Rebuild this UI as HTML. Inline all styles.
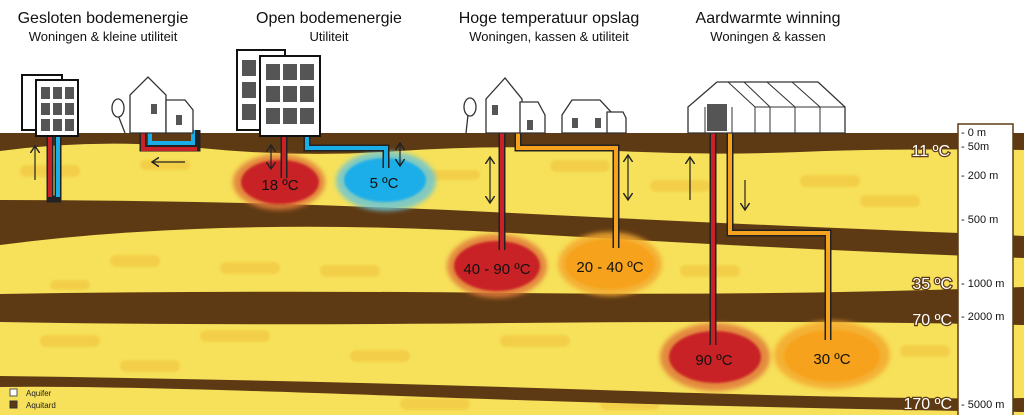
<!DOCTYPE html>
<html><head><meta charset="utf-8"><style>
html,body{margin:0;padding:0;background:#fff;}
svg{display:block;font-family:"Liberation Sans",sans-serif;}
</style></head><body>
<svg width="1024" height="415" viewBox="0 0 1024 415" xmlns="http://www.w3.org/2000/svg">
<defs>
<filter id="b4"><feGaussianBlur stdDeviation="2.5"/></filter>
<filter id="b2"><feGaussianBlur stdDeviation="1"/></filter>
<marker id="ah" markerWidth="8" markerHeight="8" refX="6" refY="4" orient="auto"><path d="M0,0 L6,4 L0,8" fill="none" stroke="#222" stroke-width="1.2"/></marker>
<marker id="as" markerWidth="8" markerHeight="8" refX="2" refY="4" orient="auto"><path d="M8,0 L2,4 L8,8" fill="none" stroke="#222" stroke-width="1.2"/></marker>
</defs>
<g font-size="16" fill="#111" text-anchor="middle">
<text x="103" y="23">Gesloten bodemenergie</text>
<text x="329" y="23">Open bodemenergie</text>
<text x="549" y="23">Hoge temperatuur opslag</text>
<text x="768" y="23">Aardwarmte winning</text>
</g>
<g font-size="13" fill="#111" text-anchor="middle">
<text x="103" y="41">Woningen &amp; kleine utiliteit</text>
<text x="329" y="41">Utiliteit</text>
<text x="549" y="41">Woningen, kassen &amp; utiliteit</text>
<text x="768" y="41">Woningen &amp; kassen</text>
</g>
<rect x="0" y="133" width="1024" height="282" fill="#f7e15a"/>
<g fill="#f2c843" opacity="0.7" filter="url(#b2)">
<rect x="20" y="165" width="60" height="12" rx="6"/><rect x="140" y="160" width="50" height="10" rx="5"/>
<rect x="420" y="170" width="60" height="10" rx="5"/><rect x="550" y="160" width="60" height="12" rx="6"/>
<rect x="110" y="255" width="50" height="12" rx="6"/><rect x="220" y="262" width="60" height="12" rx="6"/>
<rect x="50" y="280" width="40" height="10" rx="5"/><rect x="320" y="265" width="60" height="12" rx="6"/>
<rect x="650" y="180" width="60" height="12" rx="6"/><rect x="800" y="175" width="60" height="12" rx="6"/>
<rect x="680" y="265" width="60" height="12" rx="6"/><rect x="860" y="195" width="60" height="12" rx="6"/>
<rect x="40" y="335" width="60" height="12" rx="6"/><rect x="200" y="330" width="70" height="12" rx="6"/>
<rect x="350" y="350" width="60" height="12" rx="6"/><rect x="500" y="335" width="70" height="12" rx="6"/>
<rect x="120" y="360" width="60" height="12" rx="6"/><rect x="400" y="398" width="70" height="12" rx="6"/>
<rect x="600" y="398" width="60" height="12" rx="6"/><rect x="900" y="345" width="50" height="12" rx="6"/>
</g>
<path d="M0,133 H1024 V150 Q900,148 800,152 T600,150 T400,151 T200,148 T0,151 Z" fill="#5e3a14"/>
<path d="M0,200 Q250,200 512,213 T960,233 L1024,236 V258 Q800,250 512,233 T0,245 Z" fill="#5e3a14"/>
<path d="M0,294 Q250,290 512,293 T1024,287 V325 Q800,320 512,323 T0,322 Z" fill="#5e3a14"/>
<path d="M0,376 Q300,380 600,390 T1024,398 V412 Q700,407 400,396 T0,387 Z" fill="#5e3a14"/>
<g filter="url(#b4)">
<ellipse cx="279" cy="182" rx="46" ry="28" fill="#e07a3a" opacity="0.85"/>
<ellipse cx="386" cy="181" rx="50" ry="30" fill="#6cc6d4" opacity="0.85"/>
<ellipse cx="497" cy="266" rx="50" ry="32" fill="#e07a3a" opacity="0.85"/>
<ellipse cx="610" cy="264" rx="52" ry="32" fill="#f3a830" opacity="0.85"/>
<ellipse cx="715" cy="357" rx="55" ry="34" fill="#e07a3a" opacity="0.85"/>
<ellipse cx="832" cy="355" rx="58" ry="34" fill="#f3a830" opacity="0.85"/>
</g>
<g filter="url(#b2)">
<ellipse cx="280" cy="182" rx="39" ry="22" fill="#c92128"/>
<ellipse cx="385" cy="180" rx="41" ry="22" fill="#1aaee8"/>
<ellipse cx="497" cy="266" rx="43" ry="25" fill="#c92128"/>
<ellipse cx="610" cy="264" rx="45" ry="25" fill="#f6a21c"/>
<ellipse cx="715" cy="357" rx="46" ry="26" fill="#c92128"/>
<ellipse cx="832" cy="356" rx="48" ry="26" fill="#f6a21c"/>
</g>
<g fill="none" stroke-linejoin="miter">
<path d="M50,135 V199 H58 V135" stroke="#222" stroke-width="7"/>
<path d="M50,135 V197" stroke="#c92128" stroke-width="4"/><path d="M58,135 V197" stroke="#1aaee8" stroke-width="4"/>
<path d="M143,130 V148 H197 V130" stroke="#222" stroke-width="7"/>
<path d="M143,130 V149 H197" stroke="#c92128" stroke-width="4"/><path d="M150,130 V143 H193 V130" stroke="#1aaee8" stroke-width="4"/>
<path d="M284,135 V178" stroke="#222" stroke-width="7"/><path d="M284,135 V178" stroke="#c92128" stroke-width="4"/>
<path d="M307,135 V148 H386 V168" stroke="#222" stroke-width="7"/><path d="M307,135 V148 H386 V168" stroke="#1aaee8" stroke-width="4"/>
<path d="M502,133 V250" stroke="#222" stroke-width="7"/><path d="M502,133 V250" stroke="#c92128" stroke-width="4"/>
<path d="M518,133 V148 H616 V248" stroke="#222" stroke-width="7"/><path d="M518,133 V148 H616 V248" stroke="#f6a21c" stroke-width="4"/>
<path d="M713,133 V345" stroke="#222" stroke-width="7"/><path d="M713,133 V345" stroke="#c92128" stroke-width="4"/>
<path d="M730,133 V233 H828 V340" stroke="#222" stroke-width="7"/><path d="M730,133 V233 H828 V340" stroke="#f6a21c" stroke-width="4"/>
</g>
<g stroke="#222" stroke-width="1.2" fill="none">
<line x1="35" y1="180" x2="35" y2="146" marker-end="url(#ah)"/>
<line x1="185" y1="162" x2="152" y2="162" marker-end="url(#ah)"/>
<line x1="271" y1="145" x2="271" y2="169" marker-start="url(#as)" marker-end="url(#ah)"/>
<line x1="400" y1="143" x2="400" y2="166" marker-start="url(#as)" marker-end="url(#ah)"/>
<line x1="490" y1="157" x2="490" y2="203" marker-start="url(#as)" marker-end="url(#ah)"/>
<line x1="628" y1="155" x2="628" y2="200" marker-start="url(#as)" marker-end="url(#ah)"/>
<line x1="690" y1="200" x2="690" y2="157" marker-end="url(#ah)"/>
<line x1="745" y1="180" x2="745" y2="210" marker-end="url(#ah)"/>
</g>
<g font-size="15" fill="#111" text-anchor="middle">
<text x="280" y="190">18 ºC</text><text x="384" y="188">5 ºC</text>
<text x="497" y="274">40 - 90 ºC</text><text x="610" y="272">20 - 40 ºC</text>
<text x="714" y="365">90 ºC</text><text x="832" y="364">30 ºC</text>
</g>
<g stroke="#111" stroke-width="2" fill="#fff">
<rect x="22" y="75" width="40" height="55"/><rect x="36" y="80" width="42" height="56"/>
<rect x="237" y="50" width="48" height="80"/><rect x="260" y="56" width="60" height="80"/>
</g>
<g fill="#555">
<rect x="41" y="87" width="9" height="12"/><rect x="53" y="87" width="9" height="12"/><rect x="65" y="87" width="9" height="12"/>
<rect x="41" y="103" width="9" height="12"/><rect x="53" y="103" width="9" height="12"/><rect x="65" y="103" width="9" height="12"/>
<rect x="41" y="119" width="9" height="12"/><rect x="53" y="119" width="9" height="12"/><rect x="65" y="119" width="9" height="12"/>
<rect x="266" y="64" width="14" height="16"/><rect x="283" y="64" width="14" height="16"/><rect x="300" y="64" width="14" height="16"/>
<rect x="266" y="86" width="14" height="16"/><rect x="283" y="86" width="14" height="16"/><rect x="300" y="86" width="14" height="16"/>
<rect x="266" y="108" width="14" height="16"/><rect x="283" y="108" width="14" height="16"/><rect x="300" y="108" width="14" height="16"/>
<rect x="242" y="60" width="14" height="16"/><rect x="242" y="82" width="14" height="16"/><rect x="242" y="104" width="14" height="16"/>
</g>
<g stroke="#333" stroke-width="1.3" fill="#fff">
<path d="M130,133 V95 L148,77 L166,95 V133 Z"/><path d="M166,133 V100 H185 L193,110 V133 Z"/>
<path d="M125,133 L118,115" /><ellipse cx="118" cy="108" rx="6" ry="9"/>
<path d="M486,133 V99 L505,78 L522,99 V133 Z"/><path d="M520,133 V102 H538 L545,115 V133 Z"/>
<path d="M466,133 L468,115"/><ellipse cx="470" cy="107" rx="6" ry="9"/>
<path d="M562,133 V115 L572,100 H600 L612,113 V133 Z"/><path d="M607,133 V112 H623 L626,118 V133 Z"/>
<path d="M688,133 V107 L717,82 H818 L845,107 V133 Z"/>
</g>
<g stroke="#333" stroke-width="1" fill="none">
<path d="M728,82 L755,107 V133 M744,82 L770,107 V133 M767,82 L795,107 V133 M792,82 L820,107 V133 M755,107 H845 M732,107 V133 M705,107 V133"/>
</g>
<rect x="707" y="104" width="20" height="27" fill="#555"/>
<g fill="#555"><rect x="151" y="104" width="6" height="10"/><rect x="176" y="115" width="6" height="10"/>
<rect x="492" y="105" width="6" height="10"/><rect x="527" y="120" width="6" height="10"/>
<rect x="572" y="118" width="6" height="10"/><rect x="595" y="118" width="6" height="10"/></g>
<rect x="958" y="124" width="55" height="295" fill="#fff" stroke="#5e3a14" stroke-width="1.5"/>
<g font-size="11" fill="#111">
<text x="961" y="136">- 0 m</text><text x="961" y="150">- 50m</text><text x="961" y="179">- 200 m</text>
<text x="961" y="223">- 500 m</text><text x="961" y="287">- 1000 m</text><text x="961" y="320">- 2000 m</text>
<text x="961" y="408">- 5000 m</text>
</g>
<g font-size="16" fill="#fff" stroke="#5e3a14" stroke-width="2.5" paint-order="stroke" text-anchor="end">
<text x="950" y="156">11 ºC</text><text x="952" y="289">35 ºC</text><text x="952" y="325">70 ºC</text><text x="952" y="409">170 ºC</text>
</g>
<rect x="10" y="389" width="7" height="7" fill="#fff" stroke="#555"/>
<rect x="10" y="401" width="7" height="7" fill="#5e3a14" stroke="#333"/>
<g font-size="8" fill="#222"><text x="26" y="396">Aquifer</text><text x="26" y="408">Aquitard</text></g>
</svg>
</body></html>
